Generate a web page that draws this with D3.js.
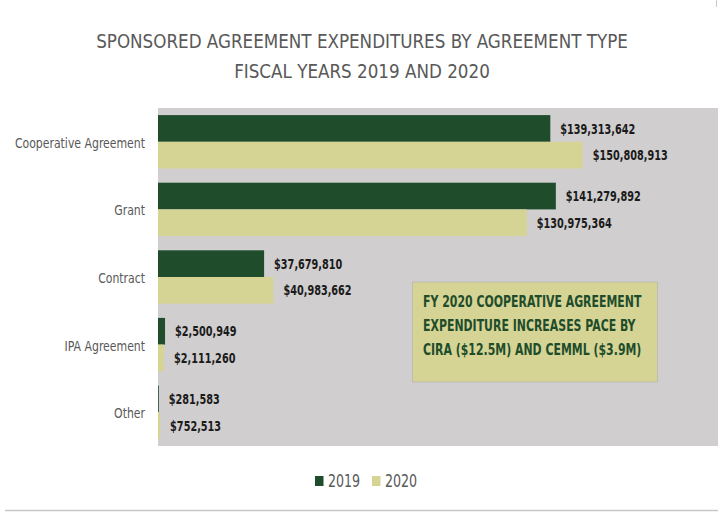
<!DOCTYPE html>
<html><head><meta charset="utf-8">
<script src="https://cdn.jsdelivr.net/npm/d3@7"></script>
<style>
html,body{margin:0;padding:0;background:#fff;}
svg{display:block;}
</style></head>
<body>
<svg id="chart" width="718" height="512"></svg>
<script>
const categories = ["Cooperative Agreement", "Grant", "Contract", "IPA Agreement", "Other"];
const seriesNames = ["2019", "2020"];
const values2019 = [139313642, 141279892, 37679810, 2500949, 281583];
const values2020 = [150808913, 130975364, 40983662, 2111260, 752513];
const colors = ["#1f4d2b", "#d6d495"];
const titleLines = ["SPONSORED AGREEMENT EXPENDITURES BY AGREEMENT TYPE", "FISCAL YEARS 2019 AND 2020"];
const noteLines = ["FY 2020 COOPERATIVE AGREEMENT", "EXPENDITURE INCREASES PACE BY", "CIRA ($12.5M) AND CEMML ($3.9M)"];

const FONT = "'Liberation Sans Narrow','DejaVu Sans Condensed',sans-serif";
const svg = d3.select("#chart");
const plot = {left: 158, top: 108, right: 718, bottom: 446};

// condense text horizontally (reference uses a narrow font)
function condense(sel, k) {
  sel.each(function () {
    const len = this.getComputedTextLength();
    d3.select(this).attr("textLength", len * k).attr("lengthAdjust", "spacingAndGlyphs");
  });
}

svg.append("rect").attr("x", plot.left).attr("y", plot.top)
  .attr("width", plot.right - plot.left).attr("height", plot.bottom - plot.top)
  .attr("fill", "#d0cecf");

const x = d3.scaleLinear().domain([0, 200000000]).range([plot.left, plot.left + 563.2]);
const y = d3.scaleBand().domain(categories).range([plot.top, plot.bottom]).paddingInner(0.21).paddingOuter(0.105);
const ys = d3.scaleBand().domain(seriesNames).range([0, y.bandwidth()]);

const rows = categories.map((c, i) => ({cat: c, vals: [values2019[i], values2020[i]]}));

const grp = svg.append("g").selectAll("g.cat").data(rows).join("g").attr("class", "cat")
  .attr("transform", d => `translate(0,${y(d.cat)})`);

grp.selectAll("rect").data(d => d.vals.map((v, j) => ({v, s: seriesNames[j], j})))
  .join("rect")
  .attr("x", x(0)).attr("y", d => ys(d.s))
  .attr("width", d => x(d.v) - x(0)).attr("height", ys.bandwidth())
  .attr("fill", d => colors[d.j]);

const fmt = d3.format("$,");
const vals = grp.selectAll("text.val").data(d => d.vals.map((v, j) => ({v, s: seriesNames[j], j})))
  .join("text").attr("class", "val")
  .attr("x", d => x(d.v) + 10).attr("y", d => ys(d.s) + ys.bandwidth() / 2)
  .attr("dy", "0.38em")
  .attr("font-family", FONT).attr("font-weight", "bold").attr("font-size", 13.5)
  .attr("fill", "#1a1a1a")
  .text(d => fmt(d.v));
condense(vals, 0.8);

const yAxis = d3.axisLeft(y).tickSize(0).tickPadding(13);
const ax = svg.append("g").attr("transform", `translate(${plot.left},1.5)`).call(yAxis);
ax.select(".domain").remove();
const axT = ax.selectAll("text").attr("font-family", FONT).attr("font-size", 14).attr("fill", "#595959");
condense(axT, 0.865);

const title = svg.append("g").selectAll("text").data(titleLines).join("text")
  .attr("x", 362).attr("y", (d, i) => 48 + i * 30)
  .attr("text-anchor", "middle")
  .attr("font-family", FONT).attr("font-size", 19).attr("fill", "#595959")
  .text(d => d);
condense(title, 0.98);

const note = svg.append("g");
note.append("rect").attr("x", 412.5).attr("y", 282).attr("width", 245).attr("height", 100)
  .attr("fill", "#d6d495").attr("stroke", "#bdbcae").attr("stroke-width", 1);
const noteT = note.selectAll("text").data(noteLines).join("text")
  .attr("x", 423).attr("y", (d, i) => 307 + i * 23.8)
  .attr("font-family", FONT).attr("font-weight", "bold").attr("font-size", 15)
  .attr("fill", "#1f4d2b")
  .text(d => d);
condense(noteT, 0.81);

const leg = svg.append("g");
const legX = [315, 372];
seriesNames.forEach((s, i) => {
  leg.append("rect").attr("x", legX[i]).attr("y", 476).attr("width", 8.5).attr("height", 10).attr("fill", colors[i]);
  const t = leg.append("text").attr("x", legX[i] + 13).attr("y", 481).attr("dy", "0.36em")
    .attr("font-family", FONT).attr("font-size", 18).attr("fill", "#595959").text(s);
  condense(t, 0.78);
});

svg.append("line").attr("x1", 5).attr("x2", 718).attr("y1", 510.5).attr("y2", 510.5)
  .attr("stroke", "#c8c8c8").attr("stroke-width", 1.5);
svg.append("line").attr("x1", 716.5).attr("x2", 716.5).attr("y1", 0).attr("y2", 7)
  .attr("stroke", "#c8c8c8").attr("stroke-width", 1);
</script>
</body></html>
